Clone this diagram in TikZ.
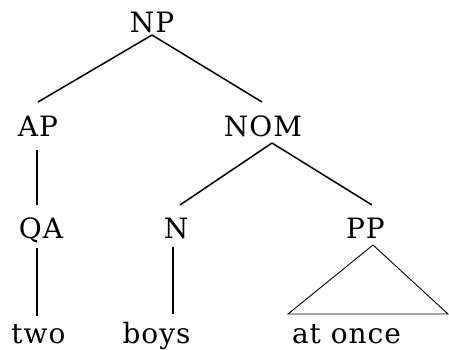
\documentclass[tikz,border=0pt]{standalone}
\usepackage{fontspec}
\setmainfont[LetterSpace=3.5]{DejaVu Serif}
\usetikzlibrary{calc}
\tikzset{
  lab/.style={inner sep=0pt, anchor=base, font=\fontsize{28}{34}\selectfont},
  edge/.style={line width=1.5pt},
  tri/.style={line width=0.9pt, line join=miter}
}
\begin{document}
\begin{tikzpicture}[x=1pt,y=-1pt]
\useasboundingbox (0,0) rectangle (449,349);
\node[lab] (NP) at (152,32) {NP};
\node[lab] (AP) at (38,136) {AP};
\node[lab] (NOM) at (263,136) {NOM};
\node[lab] (QA) at (41,238) {QA};
\node[lab] (N) at (176,238) {N};
\node[lab] (PP) at (365.5,238) {PP};
\node[lab] (two) at (38.5,343) {two};
\node[lab] (boys) at (156.5,343) {boys};
\node[lab] (atonce) at (346.5,343) {at once};
\draw[edge] ($(NP.base)+(0,3)$) -- ($(AP.base)+(0,-34)$);
\draw[edge] ($(NP.base)+(0,3)$) -- ($(NOM.base)+(-1,-34)$);
\draw[edge] ($(AP.base)+(-1,14)$) -- ($(QA.base)+(-4,-33)$);
\draw[edge] ($(NOM.base)+(9,7)$) -- ($(N.base)+(4,-33)$);
\draw[edge] ($(NOM.base)+(9,7)$) -- ($(PP.base)+(6.5,-33)$);
\draw[edge] ($(QA.base)+(-4,10)$) -- ($(two.base)+(-1.5,-27)$);
\draw[edge] ($(N.base)+(-3,9)$) -- ($(boys.base)+(16.5,-29)$);
\draw[tri] ($(PP.base)+(7.5,7)$) -- ($(atonce.base)+(-58.5,-29)$) -- ($(atonce.base)+(101.5,-29)$) -- cycle;
\end{tikzpicture}
\end{document}
